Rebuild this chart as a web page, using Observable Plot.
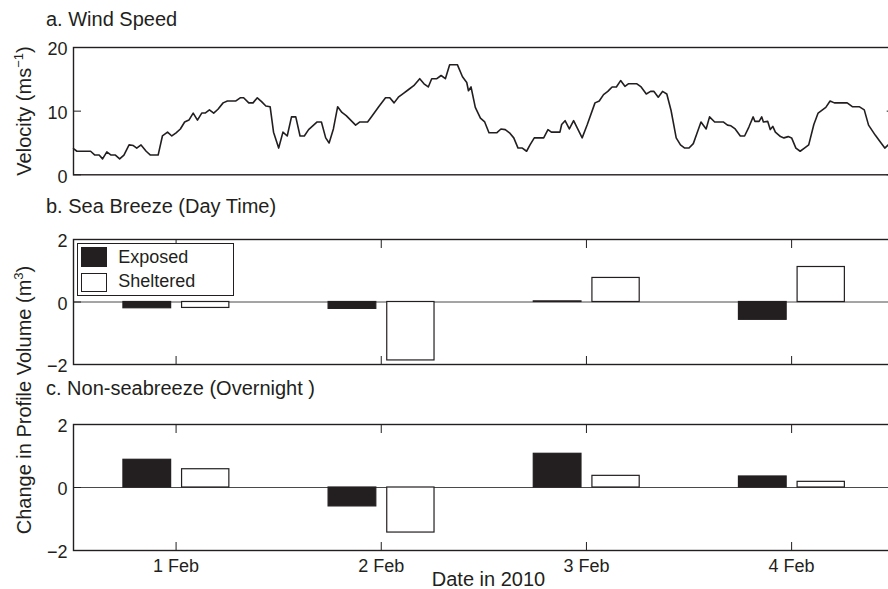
<!DOCTYPE html>
<html>
<head>
<meta charset="utf-8">
<script src="https://cdn.jsdelivr.net/npm/d3@7"></script>
<script src="https://cdn.jsdelivr.net/npm/@observablehq/plot@0.6"></script>
<style>
  html, body { margin: 0; padding: 0; background: #fff; overflow: hidden; }
  #fig { position: relative; width: 888px; height: 589px; overflow: hidden; background: #fff;
         font-family: "Liberation Sans", Arial, Helvetica, sans-serif; color: #231f20; }
  .t { position: absolute; white-space: nowrap; line-height: 1; }
  .sup { font-size: 13px; position: relative; top: -8px; }
</style>
</head>
<body>
<div id="fig"></div>
<script>
// ---- data -------------------------------------------------------------
const days = ["2010-02-01", "2010-02-02", "2010-02-03", "2010-02-04"];
const seriesNames = ["Exposed", "Sheltered"];

// b. sea breeze (day time), change in profile volume, m^3
const seaBreezeExposed   = [-0.20, -0.22, 0.02, -0.57];
const seaBreezeSheltered = [-0.19, -1.87, 0.77, 1.12];

// c. non-seabreeze (overnight), change in profile volume, m^3
const overnightExposed   = [0.88, -0.60, 1.07, 0.35];
const overnightSheltered = [0.58, -1.43, 0.37, 0.18];

// a. wind speed: hours after 1 Feb 2010 00:00, speed in m/s
const windHour = [
  -12.0, -11.6, -10.0, -9.5, -9.0, -8.6, -8.1, -7.6, -7.1, -6.6, -6.1, -5.5, -5.0, -4.6, -4.1, -3.5,
  -3.0, -2.1, -1.6, -1.0, -0.5, 0.0, 0.5, 1.0, 1.5, 2.0, 2.5, 3.0, 3.4, 3.9, 4.4, 4.9,
  5.5, 6.0, 7.0, 7.5, 7.9, 8.5, 9.0, 9.5, 10.0, 10.5, 11.0, 11.4, 12.0, 12.5, 13.0, 13.5,
  14.0, 14.5, 15.0, 15.5, 16.5, 17.0, 17.5, 17.9, 18.4, 18.9, 19.4, 19.9, 21.0, 21.5, 22.4, 22.9,
  23.7, 24.5, 25.0, 25.5, 26.0, 26.6, 27.2, 27.8, 28.5, 29.0, 29.5, 29.9, 30.5, 31.0, 31.5, 32.0,
  32.9, 33.5, 34.0, 34.2, 34.5, 35.0, 35.6, 36.1, 36.6, 37.5, 38.0, 38.5, 39.0, 39.5, 40.0, 40.5,
  41.0, 41.4, 41.9, 43.0, 43.5, 43.9, 44.9, 45.1, 45.5, 46.0, 46.5, 47.5, 48.1, 49.0, 49.5, 50.0,
  50.5, 51.0, 51.5, 52.0, 52.5, 52.9, 53.9, 54.4, 55.0, 55.5, 55.9, 56.4, 56.9, 57.4, 57.9, 58.5,
  59.0, 59.5, 60.0, 60.5, 60.9, 61.4, 62.0, 62.4, 63.0, 64.0, 64.5, 64.9, 65.4, 66.0, 66.5, 67.0,
  67.5, 67.7, 68.2, 68.5, 68.7, 69.2, 69.5, 69.8, 70.1, 70.7, 71.1, 71.6, 72.0, 72.5, 73.0, 73.5,
  74.0, 74.6, 75.1, 76.0, 76.5, 77.0, 78.5, 79.1, 79.9, 80.5, 81.0, 81.8, 82.4, 82.9, 83.3
];
const windSpeed = [
  4.1, 3.7, 3.7, 3.1, 3.1, 2.5, 3.6, 3.1, 3.1, 2.5, 3.1, 4.7, 4.6, 4.2, 4.7, 3.7,
  3.1, 3.1, 6.1, 6.7, 6.1, 6.6, 7.2, 8.3, 8.6, 9.7, 8.6, 9.7, 9.7, 10.2, 9.7, 10.3,
  11.3, 11.6, 11.6, 12.1, 12.1, 11.3, 11.3, 12.1, 11.5, 10.8, 10.7, 6.7, 4.2, 6.7, 6.1, 9.1,
  9.1, 6.1, 6.1, 7.1, 8.3, 8.3, 5.8, 5.0, 7.2, 10.7, 9.8, 9.3, 7.8, 8.3, 8.3, 9.2,
  10.7, 12.1, 12.1, 11.3, 12.2, 12.8, 13.4, 14.0, 15.1, 14.3, 13.8, 15.1, 15.1, 15.6, 15.1, 17.3,
  17.3, 15.4, 14.5, 13.2, 13.8, 10.6, 8.9, 8.3, 6.6, 6.6, 7.2, 7.1, 6.6, 5.8, 4.2, 4.2,
  3.7, 4.7, 5.8, 5.8, 7.1, 6.7, 6.7, 7.9, 8.5, 7.2, 8.5, 5.8, 7.9, 11.3, 11.6, 12.6,
  13.1, 13.8, 13.8, 14.8, 13.9, 14.3, 14.3, 13.8, 12.7, 13.1, 13.1, 12.2, 13.1, 12.7, 10.1, 5.8,
  4.7, 4.2, 4.2, 4.9, 6.4, 8.3, 7.2, 9.1, 8.3, 8.3, 7.8, 7.7, 7.2, 6.1, 6.1, 7.5,
  9.1, 8.4, 8.4, 9.1, 8.3, 8.4, 7.1, 7.6, 6.7, 6.0, 5.8, 6.0, 5.8, 4.2, 3.7, 4.2,
  4.7, 7.9, 9.7, 10.6, 11.6, 11.3, 11.3, 10.7, 10.7, 10.2, 7.8, 6.2, 5.1, 4.2, 4.7
];

const velocityTicks = [0, 10, 20];
const volumeTicks = [-2, 0, 2];

// ---- shared setup -------------------------------------------------------
const ink = "#231f20";
const FONT = '"Liberation Sans", Arial, Helvetica, sans-serif';
const dayDates = days.map(d3.utcParse("%Y-%m-%d"));
const t0 = dayDates[0];
const hourMs = 3600e3;
const xDomain = [new Date(+t0 - 12 * hourMs), new Date(+dayDates[3] + 12 * hourMs)];
const intFormat = d3.format("d");

// the plotting box runs slightly past the right edge of the page
const W = 900, ML = 73, MR = 6.3;

// grouped bars sit either side of midnight (hours relative to the day)
const barSpan = {Exposed: [-6.16, -0.58], Sheltered: [0.70, 6.23]};

const wind = windHour.map((h, i) => ({t: new Date(+t0 + h * hourMs), v: windSpeed[i]}));

function barRows(exposed, sheltered) {
  const values = {Exposed: exposed, Sheltered: sheltered};
  return dayDates.flatMap((d, i) => seriesNames.map(s => ({
    series: s,
    value: values[s][i],
    x1: new Date(+d + barSpan[s][0] * hourMs),
    x2: new Date(+d + barSpan[s][1] * hourMs)
  })));
}

const baseStyle = {fontFamily: FONT, fontSize: "18px", color: ink, background: "transparent", maxWidth: "none"};
const fig = document.getElementById("fig");

function place(svg, top) {
  svg.style.position = "absolute";
  svg.style.left = "0px";
  svg.style.top = top + "px";
  fig.appendChild(svg);
}

// ---- a. wind speed ---------------------------------------------------------
place(Plot.plot({
  width: W, height: 160, marginLeft: ML, marginRight: MR, marginTop: 20, marginBottom: 12.7,
  style: baseStyle,
  x: {type: "utc", domain: xDomain, axis: null},
  y: {domain: [0, 20]},
  marks: [
    Plot.line(wind, {x: "t", y: "v", stroke: ink, strokeWidth: 1.6, strokeLinejoin: "round"}),
    Plot.frame({stroke: ink, strokeWidth: 1.4}),
    Plot.axisY({ticks: velocityTicks, tickSize: -8, tickFormat: () => "", label: null, stroke: ink}),
    Plot.axisY({anchor: "right", ticks: velocityTicks, tickSize: -8, tickFormat: () => "", label: null, stroke: ink}),
    Plot.axisY({ticks: velocityTicks, tickSize: 0, tickPadding: 6, dy: 2, tickFormat: intFormat, label: null, fill: ink})
  ]
}), 27);

// ---- b. and c. change in profile volume -------------------------------------
function volumePanel(rows, top, height, marginBottom, withLabels) {
  place(Plot.plot({
    width: W, height, marginLeft: ML, marginRight: MR, marginTop: 20, marginBottom,
    style: baseStyle,
    x: {type: "utc", domain: xDomain},
    y: {domain: [-2, 2]},
    color: {domain: seriesNames, range: [ink, "#ffffff"]},
    marks: [
      Plot.ruleY([0], {stroke: "#4a4a4a", strokeWidth: 1}),
      Plot.rect(rows, {x1: "x1", x2: "x2", y1: 0, y2: "value", fill: "series", stroke: ink, strokeWidth: 1.2}),
      Plot.frame({stroke: ink, strokeWidth: 1.4}),
      Plot.axisY({ticks: volumeTicks, tickSize: -8, tickFormat: () => "", label: null, stroke: ink}),
      Plot.axisY({ticks: volumeTicks, tickSize: 0, tickPadding: 6, dy: 2, tickFormat: intFormat, label: null, fill: ink}),
      Plot.axisX({anchor: "top", ticks: dayDates, tickSize: -8, tickFormat: () => "", label: null, stroke: ink}),
      Plot.axisX({anchor: "bottom", ticks: dayDates, tickSize: -8, tickFormat: () => "", label: null, stroke: ink}),
      withLabels
        ? Plot.axisX({anchor: "bottom", ticks: dayDates, tickSize: 0, tickPadding: 9, tickFormat: d3.utcFormat("%-d %b"), label: null, fill: ink})
        : null
    ]
  }), top);
}

volumePanel(barRows(seaBreezeExposed, seaBreezeSheltered), 219, 160, 15, false);
volumePanel(barRows(overnightExposed, overnightSheltered), 404, 185, 39, true);

// ---- titles, axis labels and legend -------------------------------------------
function addText(html, css) {
  const el = document.createElement("div");
  el.className = "t";
  el.innerHTML = html;
  Object.assign(el.style, css);
  fig.appendChild(el);
  return el;
}

addText("a. Wind Speed", {left: "46px", top: "9.1px", fontSize: "20px"});
addText("b. Sea Breeze (Day Time)", {left: "46px", top: "195.6px", fontSize: "20px"});
addText("c. Non-seabreeze (Overnight )", {left: "46px", top: "378.1px", fontSize: "20px"});
addText("Date in 2010", {left: "488.5px", top: "569px", fontSize: "20px", transform: "translateX(-50%)"});
addText('Velocity (ms<span class="sup">−1</span>)',
  {left: "23.5px", top: "111px", fontSize: "20px", transform: "translate(-50%, -50%) rotate(-90deg)"});
addText('Change in Profile Volume (m<span class="sup">3</span>)',
  {left: "23.5px", top: "400px", fontSize: "20px", transform: "translate(-50%, -50%) rotate(-90deg)"});

// legend box inside panel b
const legendBox = document.createElement("div");
Object.assign(legendBox.style, {
  position: "absolute", left: "76.7px", top: "243.3px", width: "157.6px", height: "52.7px",
  border: "1.4px solid " + ink, boxSizing: "border-box", background: "#fff"
});
fig.appendChild(legendBox);
const swatchFill = {Exposed: ink, Sheltered: "#ffffff"};
const swatchTop = [246.7, 272.7], swatchH = [20.7, 19], labelTop = [248.1, 272.1];
seriesNames.forEach((s, i) => {
  const sw = document.createElement("div");
  Object.assign(sw.style, {
    position: "absolute", left: "81px", top: swatchTop[i] + "px", width: "25.7px", height: swatchH[i] + "px",
    background: swatchFill[s], border: "1.2px solid " + ink, boxSizing: "border-box"
  });
  fig.appendChild(sw);
  addText(s, {left: "118.3px", top: labelTop[i] + "px", fontSize: "18px"});
});
</script>
</body>
</html>
